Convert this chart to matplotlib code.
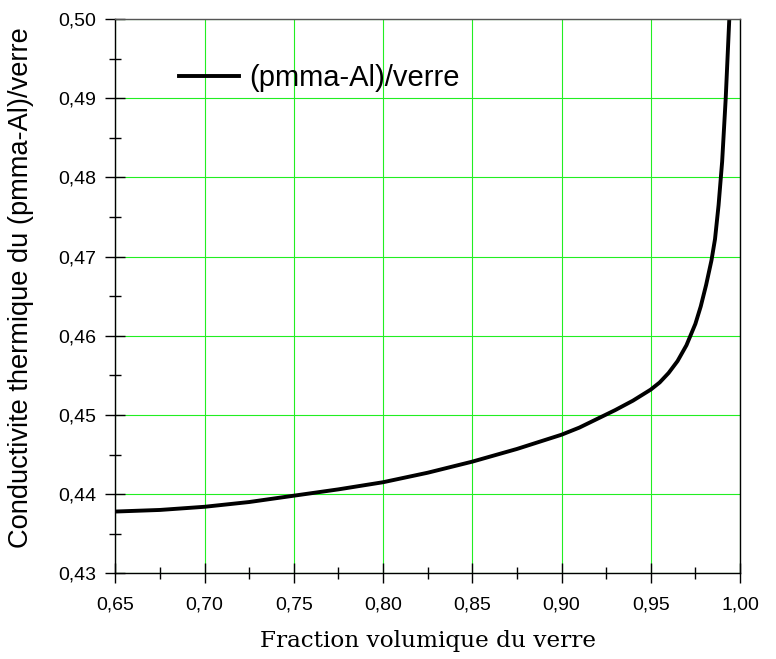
import numpy as np
import matplotlib
matplotlib.use('Agg')
import matplotlib.pyplot as plt
from matplotlib.ticker import MultipleLocator, FuncFormatter

# values
fraction = [0.65, 0.675, 0.70, 0.725, 0.75, 0.775, 0.80, 0.825, 0.85, 0.875,
            0.90, 0.91, 0.92, 0.93, 0.94, 0.95, 0.955, 0.96, 0.965, 0.97,
            0.975, 0.978, 0.981, 0.984, 0.986, 0.988, 0.990, 0.992, 0.994]
conductivite = [0.4378, 0.4380, 0.4384, 0.4390, 0.4398, 0.4406, 0.4415, 0.4427,
                0.4441, 0.4457, 0.4475, 0.4484, 0.4495, 0.4506, 0.4518, 0.4532,
                0.4541, 0.4553, 0.4568, 0.4588, 0.4615, 0.4637, 0.4664, 0.4695,
                0.4722, 0.4765, 0.4820, 0.4900, 0.5000]
serie = "(pmma-Al)/verre"

plt.rcParams['font.family'] = ['Liberation Sans', 'DejaVu Sans']

fig = plt.figure(figsize=(7.76, 6.59), dpi=100)
ax = fig.add_axes([115.3/776, 1 - 573.3/659, (740 - 115.3)/776, (573.3 - 19)/659])

ax.plot(fraction, conductivite, color='black', lw=2.8, label=serie,
        solid_joinstyle='round')

ax.set_xlim(0.65, 1.00)
ax.set_ylim(0.43, 0.50)
ax.xaxis.set_major_locator(MultipleLocator(0.05))
ax.xaxis.set_minor_locator(MultipleLocator(0.025))
ax.yaxis.set_major_locator(MultipleLocator(0.01))
ax.yaxis.set_minor_locator(MultipleLocator(0.005))
ax.xaxis.set_major_formatter(FuncFormatter(lambda v, p: f"{v:.2f}".replace('.', ',')))
ax.yaxis.set_major_formatter(FuncFormatter(lambda v, p: f"{v:.2f}".replace('.', ',')))

ax.grid(True, which='major', color='#22ee22', lw=0.8)
ax.set_axisbelow(True)

ax.tick_params(which='major', direction='inout', length=15, width=1.0, labelsize=14, color='black')
ax.tick_params(which='minor', direction='inout', length=8, width=1.0, color='black')
ax.tick_params(axis='x', which='major', pad=9)
ax.tick_params(axis='y', which='major', pad=6)
ax.tick_params(top=False, right=False, which='both')

for s in ['left', 'bottom', 'right']:
    ax.spines[s].set_color('black')
    ax.spines[s].set_linewidth(1.0)
ax.spines['top'].set_color('#555555')
ax.spines['top'].set_linewidth(1.0)

ax.set_xlabel("Fraction volumique du verre", family='DejaVu Serif', fontsize=16.7, labelpad=12)
ax.set_ylabel("Conductivite thermique du (pmma-Al)/verre", fontsize=19.6)
ax.yaxis.set_label_coords(-0.130, 0.515)

ax.legend(loc='upper left', bbox_to_anchor=(0.083, 0.94), frameon=False, fontsize=21,
          handlelength=2.07, handletextpad=0.35, borderaxespad=0)

fig.savefig('out.png', dpi=100)
